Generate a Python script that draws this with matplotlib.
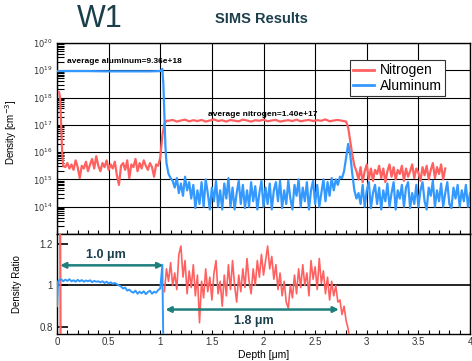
# SIMS depth profile for W1: nitrogen / aluminum densities plus ratio panel
import numpy as np
import matplotlib.pyplot as plt
from matplotlib.ticker import MultipleLocator, LogLocator, NullFormatter

plt.rcParams['font.family'] = ['Liberation Sans', 'DejaVu Sans']

RED = "#ff6161"
BLUE = "#3399ff"
TEAL = "#1f7f7d"
DARK = "#1c3f4c"

# ---- top panel data (log10 of density, cm^-3) ----
al_edge_depth = [0.00, 0.10, 0.30, 0.50, 0.70, 0.90, 1.00, 1.02, 1.03, 1.04, 1.05, 1.06, 1.08, 1.10]
al_edge_log = [18.97, 18.97, 18.97, 18.96, 18.96, 18.96, 18.97, 19.05, 18.5, 17.3, 16.2, 15.6, 15.2, 15.05]

al_tail_start, al_tail_step = 1.12, 0.02
al_tail_log = [
    14.95, 14.7, 15.05, 14.5, 14.85, 14.4, 15.1, 14.6, 14.9, 14.3,
    14.8, 13.95, 14.6, 14.1, 14.9, 14.0, 15.0, 14.5, 13.9, 14.7,
    14.2, 14.95, 14.0, 14.6, 13.9, 14.85, 14.3, 15.05, 14.0, 14.7,
    13.9, 14.5, 14.95, 14.1, 14.8, 13.95, 14.6, 14.0, 14.9, 14.2,
    14.75, 13.9, 14.5, 14.95, 14.0, 14.7, 14.1, 14.85, 13.9, 14.6,
    14.9, 14.2, 14.95, 13.95, 14.6, 14.1, 14.95, 14.3, 13.9, 14.8,
    14.4, 15.0, 14.0, 14.7, 14.2, 14.9, 13.9, 14.6, 14.95, 14.1,
    14.8, 14.0, 14.5, 15.0, 14.2, 14.9, 14.4, 15.05, 14.6, 15.0,
    14.8, 15.1, 15.05, 15.3, 15.8, 16.3, 15.9, 15.2, 14.6, 14.3,
    14.5, 14.1, 14.8, 14.0, 14.6, 14.9, 13.95, 14.5, 14.8, 14.1,
    14.7, 13.9, 14.6, 14.2, 14.85, 14.0, 14.5, 14.9, 13.9, 14.6,
    14.3, 14.8, 14.0, 14.7, 14.9, 13.95, 14.5, 14.1, 14.8, 14.0,
    14.6, 14.9, 14.2, 13.9, 14.7, 14.4, 14.95, 14.0, 14.6, 14.2,
    14.85, 14.0, 14.5, 14.9, 14.1, 13.95, 14.7, 14.3, 14.8, 14.0,
    14.6, 14.2, 14.8, 14.0, 14.5,
]

n_surf_depth = [0.02, 0.03, 0.04, 0.05, 0.06]
n_surf_log = [18.2, 18.0, 17.0, 16.0, 15.5]

n_al_start, n_al_step = 0.08, 0.02
n_al_log = [
    15.45, 15.6, 15.4, 15.55, 15.35, 15.7, 15.45, 15.05, 15.5, 15.4,
    15.65, 15.3, 15.55, 15.75, 15.4, 15.85, 15.5, 15.3, 15.6, 15.45,
    15.7, 15.35, 15.55, 15.4, 15.65, 15.15, 14.8, 15.5, 15.6, 15.35,
    15.7, 15.05, 15.55, 15.45, 15.75, 15.3, 15.6, 15.4, 15.7, 15.5,
    15.35, 15.6, 15.45, 15.1, 15.55,
]

n_rise_depth = [0.98, 1.00, 1.02, 1.04, 1.06]
n_rise_log = [15.5, 15.8, 16.6, 17.05, 17.15]

n_plat_start, n_plat_step = 1.08, 0.04
n_plat_log = [
    17.15, 17.18, 17.12, 17.16, 17.19, 17.13, 17.17, 17.14, 17.18, 17.12,
    17.16, 17.2, 17.14, 17.17, 17.12, 17.18, 17.15, 17.13, 17.19, 17.16,
    17.12, 17.17, 17.15, 17.19, 17.13, 17.16, 17.18, 17.12, 17.15, 17.17,
    17.14, 17.19, 17.13, 17.16, 17.18, 17.14, 17.17, 17.15, 17.2, 17.13,
    17.16, 17.18, 17.15, 17.12,
]

n_drop_depth = [2.82, 2.84, 2.86, 2.88, 2.90]
n_drop_log = [16.9, 16.4, 15.9, 15.5, 15.3]

n_tail_start, n_tail_step = 2.92, 0.02
n_tail_log = [
    15.0, 15.45, 14.9, 15.3, 15.55, 15.0, 15.4, 14.95, 15.35, 15.2,
    15.5, 15.05, 15.4, 14.9, 15.3, 15.55, 15.1, 15.45, 15.0, 15.35,
    15.2, 15.5, 14.95, 15.4, 15.1, 15.3, 15.55, 15.05, 15.4, 15.25,
    14.95, 15.45, 15.15, 15.5, 15.0, 15.35, 15.6, 15.05, 15.45, 15.2,
    15.55, 15.0, 15.4,
]

# ---- bottom panel data (density ratio) ----
al_ratio_head_depth = [0.0, 0.01]
al_ratio_head = [0.90, 1.02]
al_ratio_start, al_ratio_step = 0.02, 0.02
al_ratio = [
    1.025, 1.03, 1.02, 1.028, 1.022, 1.03, 1.02, 1.025, 1.018, 1.027,
    1.02, 1.026, 1.018, 1.024, 1.02, 1.025, 1.016, 1.022, 1.018, 1.02,
    1.015, 1.02, 1.012, 1.018, 1.01, 1.015, 1.008, 1.012, 1.006, 1.0,
    0.995, 0.985, 0.99, 0.975, 0.98, 0.97, 0.965, 0.975, 0.96, 0.97,
    0.962, 0.972, 0.958, 0.968, 0.975, 0.96, 0.97, 0.965, 0.978, 0.985,
]
al_ratio_end_depth = [1.02, 1.025, 1.03]
al_ratio_end = [1.10, 0.90, 0.70]

n_ratio_surf_depth = [0.03, 0.035]
n_ratio_surf = [1.35, 0.65]
n_ratio_start, n_ratio_step = 1.04, 0.02
n_ratio = [
    0.97, 1.08, 1.02, 1.11, 1.0, 1.06, 0.98, 1.15, 1.19, 1.04,
    1.12, 0.96, 1.07, 0.99, 1.1, 0.95, 1.05, 0.82, 1.02, 0.94,
    1.08, 0.97, 1.04, 0.93, 1.06, 1.12, 0.96, 1.02, 0.9, 1.05,
    0.95, 1.1, 0.98, 1.12, 1.0, 0.92, 1.05, 0.97, 1.08, 0.99,
    1.13, 1.02, 0.96, 1.08, 1.0, 1.12, 1.04, 1.15, 1.05, 1.12,
    1.19, 1.08, 1.14, 1.03, 1.1, 0.98, 1.06, 0.95, 1.02, 0.92,
    0.89, 1.0, 0.94, 1.05, 0.96, 1.08, 0.99, 1.1, 1.0, 1.06,
    0.95, 1.12, 1.03, 1.09, 0.98, 1.13, 1.01, 1.07, 0.96, 1.04,
    0.93, 1.02, 0.95, 1.0, 0.92,
]
n_ratio_end_depth = [2.74, 2.76, 2.78, 2.80, 2.82, 2.84]
n_ratio_end = [0.93, 0.86, 0.90, 0.83, 0.79, 0.72]

depth_ticks = [0, 0.5, 1, 1.5, 2, 2.5, 3, 3.5, 4]
depth_labels = ["0", "0.5", "1", "1.5", "2", "2.5", "3", "3.5", "4"]


def grid_depth(start, step, vals):
    return start + step * np.arange(len(vals))


al_depth = np.concatenate([al_edge_depth, grid_depth(al_tail_start, al_tail_step, al_tail_log)])
al_dens = np.power(10.0, np.concatenate([al_edge_log, al_tail_log]))

n_depth = np.concatenate([n_surf_depth, grid_depth(n_al_start, n_al_step, n_al_log), n_rise_depth,
                          grid_depth(n_plat_start, n_plat_step, n_plat_log), n_drop_depth,
                          grid_depth(n_tail_start, n_tail_step, n_tail_log)])
n_dens = np.power(10.0, np.concatenate([n_surf_log, n_al_log, n_rise_log, n_plat_log, n_drop_log, n_tail_log]))

alr_depth = np.concatenate([al_ratio_head_depth, grid_depth(al_ratio_start, al_ratio_step, al_ratio),
                            al_ratio_end_depth])
alr_vals = np.concatenate([al_ratio_head, al_ratio, al_ratio_end])

nr_depth = np.concatenate([grid_depth(n_ratio_start, n_ratio_step, n_ratio), n_ratio_end_depth])
nr_vals = np.concatenate([n_ratio, n_ratio_end])

fig = plt.figure(figsize=(4.72, 3.61), dpi=100)
ax1 = fig.add_axes([0.1208, 0.3518, 0.8750, 0.5291])
ax2 = fig.add_axes([0.1208, 0.0748, 0.8750, 0.2770])

# top panel
ax1.plot(n_depth, n_dens, color=RED, lw=1.6, label="Nitrogen", zorder=3)
ax1.plot(al_depth, al_dens, color=BLUE, lw=1.6, label="Aluminum", zorder=3)
ax1.set_yscale("log")
ax1.set_xlim(0, 4)
ax1.set_ylim(1e13, 1e20)
decades = [13, 14, 15, 16, 17, 18, 19, 20]
ax1.set_yticks([10.0 ** d for d in decades])
ax1.set_yticklabels([""] + [f"$10^{{{d}}}$" for d in decades[1:]], fontsize=6, color="#333333")
ax1.yaxis.set_minor_locator(LogLocator(base=10, subs=np.arange(2, 10), numticks=20))
ax1.yaxis.set_minor_formatter(NullFormatter())
ax1.set_xticks(depth_ticks)
ax1.set_xticklabels([])
ax1.xaxis.set_minor_locator(MultipleLocator(0.1))
ax1.tick_params(axis="y", which="major", direction="in", length=0, pad=3)
ax1.tick_params(axis="y", which="minor", direction="in", length=5, width=0.8)
ax1.tick_params(axis="x", which="both", direction="in", length=3, width=0.8)
ax1.grid(True, which="major", color="black", lw=0.8)
ax1.set_ylabel("Density [cm$^{-3}$]", fontsize=7)
ax1.yaxis.set_label_coords(-0.093, 0.53)
for s in ax1.spines.values():
    s.set_linewidth(1.0)

ax1.text(0.1, 2.1e19, "average aluminum=9.36e+18", fontsize=6, fontweight="bold", va="center")
ax1.text(1.46, 2.4e17, "average nitrogen=1.40e+17", fontsize=6, fontweight="bold", va="center")

leg = ax1.legend(loc="upper right", bbox_to_anchor=(0.94, 0.911), borderaxespad=0, fontsize=10,
                 frameon=True, fancybox=False, framealpha=1, edgecolor="#333333", handlelength=1.5,
                 borderpad=0.25, labelspacing=0.1, handletextpad=0.4)
leg.get_frame().set_linewidth(0.8)
for line in leg.get_lines():
    line.set_linewidth(2)

# bottom panel
ax2.axhline(1.0, color="black", lw=1.2, zorder=2)
ax2.plot(n_ratio_surf_depth, n_ratio_surf, color=RED, lw=1.6, zorder=3)
ax2.plot(nr_depth, nr_vals, color=RED, lw=1.2, zorder=3)
ax2.plot(alr_depth, alr_vals, color=BLUE, lw=1.4, zorder=4)
ax2.set_xlim(0, 4)
ax2.set_ylim(0.766, 1.248)
ax2.set_yticks([0.8, 1.0, 1.2])
ax2.set_yticklabels(["0.8", "1", "1.2"], fontsize=7, color="#333333")
ax2.set_xticks(depth_ticks)
ax2.set_xticklabels(depth_labels, fontsize=7, color="#333333")
ax2.xaxis.set_minor_locator(MultipleLocator(0.1))
ax2.tick_params(axis="y", which="major", direction="in", length=8, width=1.2, pad=3)
ax2.tick_params(axis="x", which="both", direction="in", length=3, width=0.8, pad=2)
ax2.set_ylabel("Density Ratio", fontsize=7)
ax2.yaxis.set_label_coords(-0.085, 0.5)
ax2.set_xlabel("Depth [\u03bcm]", fontsize=7.5, labelpad=2)
for s in ax2.spines.values():
    s.set_linewidth(1.0)

ax2.annotate("", xy=(0.03, 1.097), xytext=(1.03, 1.097),
             arrowprops=dict(arrowstyle="<|-|>", color=TEAL, lw=1.8, mutation_scale=8, shrinkA=0, shrinkB=0),
             zorder=5)
ax2.text(0.47, 1.145, "1.0 \u03bcm", fontsize=9, fontweight="bold", color=DARK, ha="center", va="center")
ax2.annotate("", xy=(1.05, 0.884), xytext=(2.73, 0.884),
             arrowprops=dict(arrowstyle="<|-|>", color=TEAL, lw=1.8, mutation_scale=8, shrinkA=0, shrinkB=0),
             zorder=5)
ax2.text(1.91, 0.83, "1.8 \u03bcm", fontsize=9, fontweight="bold", color=DARK, ha="center", va="center")

# titles
fig.text(0.212, 0.948, "W1", fontsize=22, color=DARK, ha="center", va="center")
fig.text(0.553, 0.948, "SIMS Results", fontsize=10.5, fontweight="bold", color=DARK, ha="center", va="center")

fig.savefig("out.png", dpi=100)
